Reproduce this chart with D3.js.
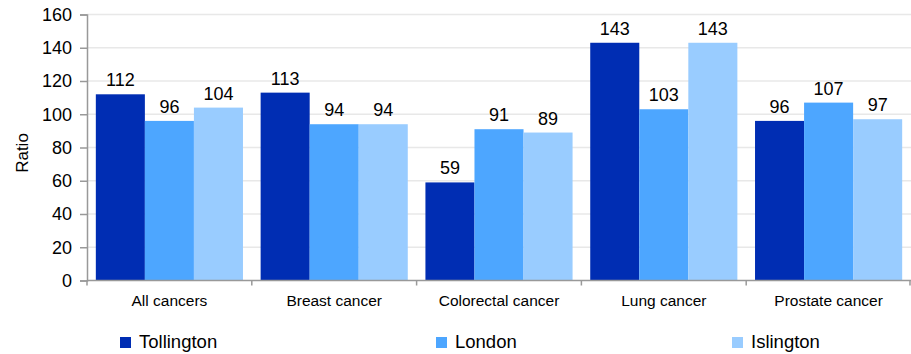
<!DOCTYPE html>
<html>
<head>
<meta charset="utf-8"/>
<script src="https://cdn.jsdelivr.net/npm/d3@7"></script>
<style>
body { margin: 0; background: #fff; }
text { font-family: "Liberation Sans", Arial, sans-serif; fill: #000; }
</style>
</head>
<body>
<script>
var categories = ["All cancers", "Breast cancer", "Colorectal cancer", "Lung cancer", "Prostate cancer"];
var seriesNames = ["Tollington", "London", "Islington"];
var tollington = [112, 113, 59, 143, 96];
var london = [96, 94, 91, 103, 107];
var islington = [104, 94, 89, 143, 97];
var colors = ["#002db3", "#4da6ff", "#99ccff"];
var yTicks = [0, 20, 40, 60, 80, 100, 120, 140, 160];

var width = 911, height = 354;
var plotLeft = 87, plotRight = 911, plotTop = 14.5, plotBottom = 280.5;

var svg = d3.select("body").append("svg").attr("width", width).attr("height", height);

var x = d3.scaleBand().domain(categories).range([plotLeft, plotRight]);
var xs = d3.scaleBand().domain(seriesNames).range([0, x.bandwidth()]).paddingOuter(0.18).paddingInner(0);
var y = d3.scaleLinear().domain([0, 160]).range([plotBottom, plotTop]);

// gridlines
svg.append("g").selectAll("line").data(yTicks.slice(1)).enter().append("line")
  .attr("x1", plotLeft).attr("x2", plotRight)
  .attr("y1", function(d){ return y(d); }).attr("y2", function(d){ return y(d); })
  .attr("stroke", "#e8e8e8").attr("stroke-width", 1.5);

var data = [tollington, london, islington];
var groups = svg.append("g").selectAll("g").data(seriesNames).enter().append("g")
  .attr("fill", function(d, i){ return colors[i]; });

groups.selectAll("rect").data(function(d, i){ return data[i].map(function(v, j){ return {s: d, c: categories[j], v: v}; }); })
  .enter().append("rect")
  .attr("x", function(d){ return x(d.c) + xs(d.s); })
  .attr("width", xs.bandwidth())
  .attr("y", function(d){ return y(d.v); })
  .attr("height", function(d){ return y(0) - y(d.v); });

groups.selectAll("text").data(function(d, i){ return data[i].map(function(v, j){ return {s: d, c: categories[j], v: v}; }); })
  .enter().append("text")
  .attr("x", function(d){ return x(d.c) + xs(d.s) + xs.bandwidth() / 2; })
  .attr("y", function(d){ return y(d.v) - 8; })
  .attr("text-anchor", "middle")
  .style("font-size", "18px")
  .text(function(d){ return d.v; });

// y axis
var yAxis = svg.append("g").attr("transform", "translate(" + plotLeft + ",0)")
  .call(d3.axisLeft(y).tickValues(yTicks).tickSize(7).tickPadding(8));
yAxis.select(".domain").attr("stroke", "#999").attr("stroke-width", 1.5);
yAxis.selectAll(".tick line").attr("stroke", "#999").attr("stroke-width", 1.5);
yAxis.selectAll(".tick text").style("font-size", "18px").style("font-family", "'Liberation Sans', Arial, sans-serif").attr("fill", "#000");

// x axis
var xAxis = svg.append("g").attr("transform", "translate(0," + plotBottom + ")");
xAxis.append("line").attr("x1", plotLeft).attr("x2", plotRight).attr("y1", 0).attr("y2", 0)
  .attr("stroke", "#999").attr("stroke-width", 1.5);
xAxis.selectAll("line.t").data(categories.concat(["end"])).enter().append("line")
  .attr("class", "t")
  .attr("x1", function(d){ return d === "end" ? plotRight - 1 : x(d); })
  .attr("x2", function(d){ return d === "end" ? plotRight - 1 : x(d); })
  .attr("y1", 0).attr("y2", 5)
  .attr("stroke", "#999").attr("stroke-width", 1.5);
xAxis.selectAll("text").data(categories).enter().append("text")
  .attr("x", function(d){ return x(d) + x.bandwidth() / 2; })
  .attr("y", 25.5)
  .attr("text-anchor", "middle")
  .style("font-size", "15.5px")
  .text(function(d){ return d; });

// y title
svg.append("text").attr("transform", "translate(28,153) rotate(-90)")
  .attr("text-anchor", "middle").style("font-size", "17px").text("Ratio");

// legend
var legendX = [120, 436, 732];
var legend = svg.append("g").selectAll("g").data(seriesNames).enter().append("g")
  .attr("transform", function(d, i){ return "translate(" + legendX[i] + ",337)"; });
legend.append("rect").attr("width", 11).attr("height", 11).attr("fill", function(d, i){ return colors[i]; });
legend.append("text").attr("x", 19).attr("y", 11).style("font-size", "18.5px").text(function(d){ return d; });
</script>
</body>
</html>
